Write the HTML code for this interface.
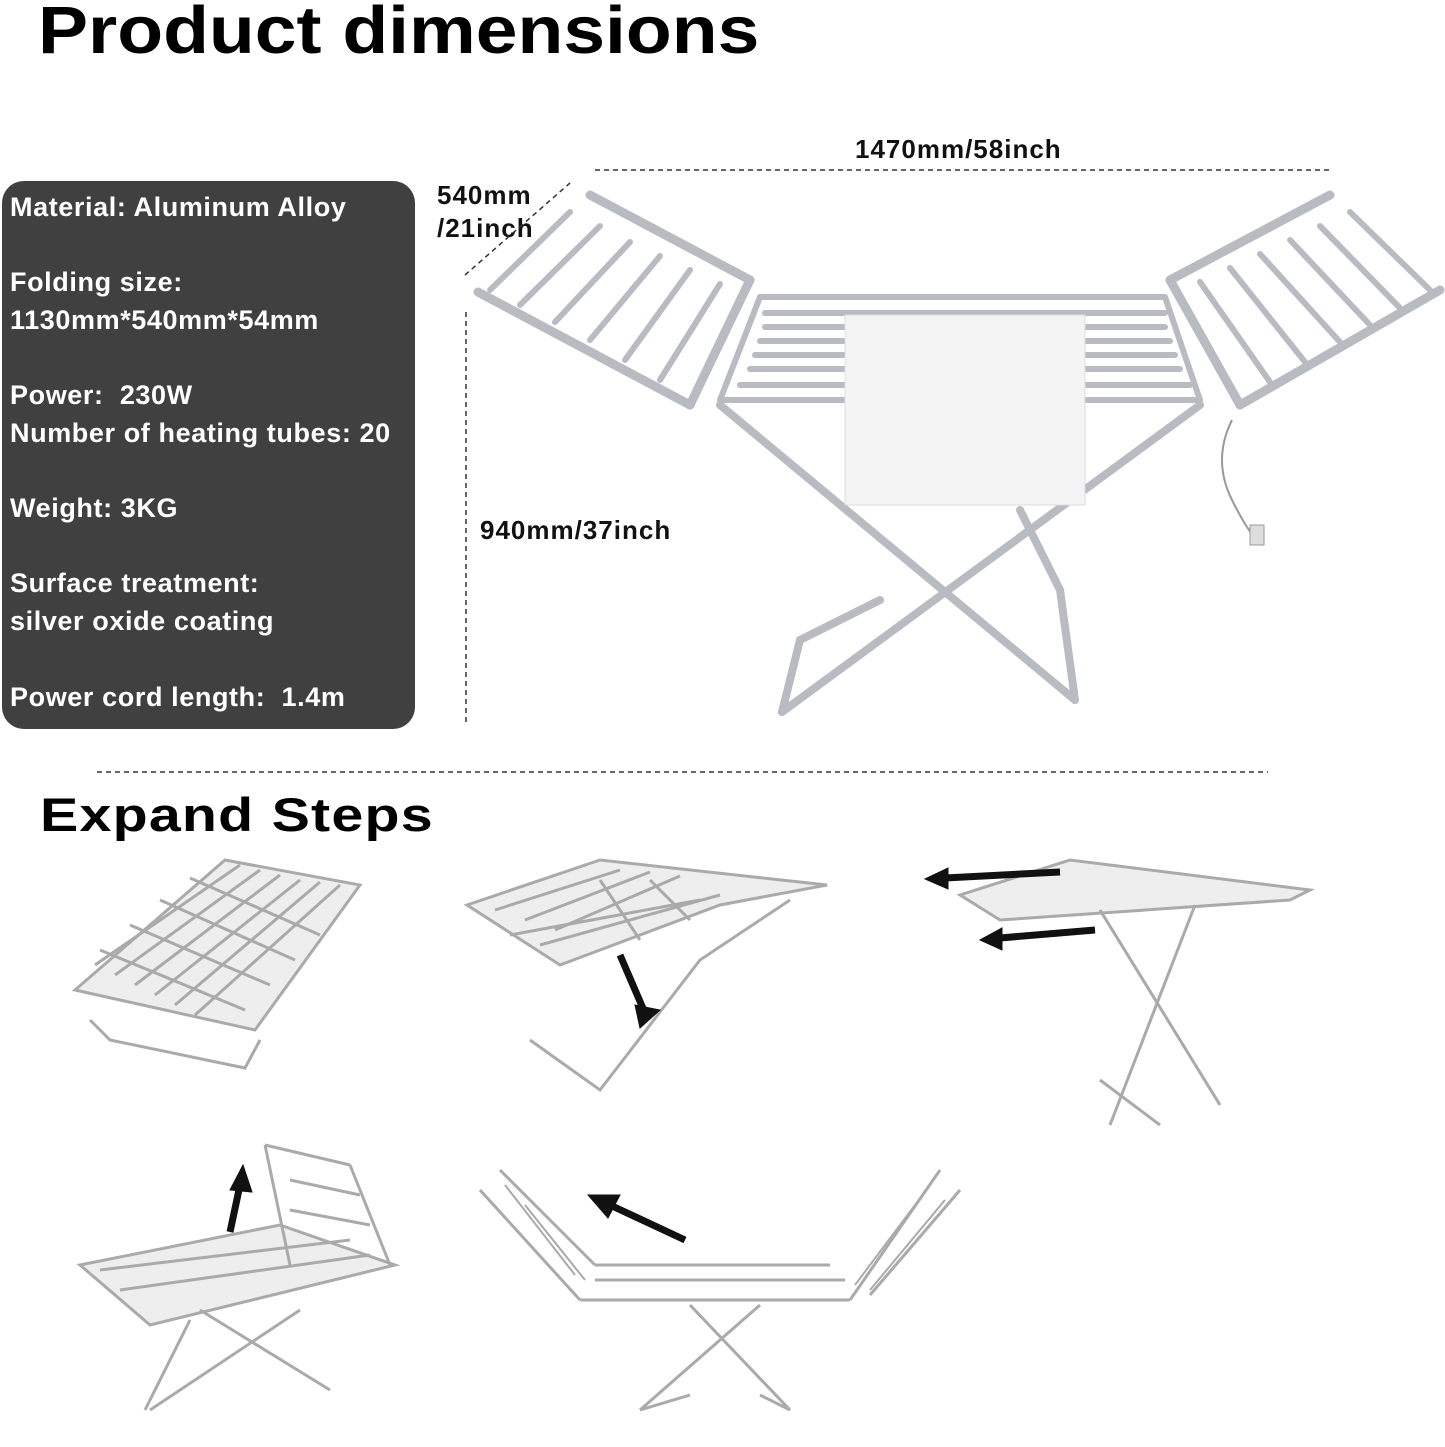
<!DOCTYPE html>
<html><head><meta charset="utf-8"><style>
body{margin:0;width:1445px;height:1447px;background:#fff;position:relative;overflow:hidden;font-family:"Liberation Sans",Arial,sans-serif}
.t{position:absolute;white-space:nowrap;transform-origin:left top}
.d{font-size:26px;font-weight:bold;letter-spacing:1px;color:#111}
#box{position:absolute;left:2px;top:181px;width:413px;height:548px;background:#404040;border-radius:22px}
#box div{position:absolute;left:8px;color:#fff;font-size:27px;font-weight:bold;letter-spacing:0.6px;white-space:nowrap}
</style></head><body>
<div class="t" style="left:38px;top:-8px;font-size:67px;font-weight:bold;color:#000;transform:scaleX(1.12)">Product dimensions</div>
<div id="box">
<div style="top:11px">Material: Aluminum Alloy</div>
<div style="top:86px">Folding size:</div>
<div style="top:124px">1130mm*540mm*54mm</div>
<div style="top:199px">Power:&nbsp; 230W</div>
<div style="top:237px">Number of heating tubes: 20</div>
<div style="top:312px">Weight: 3KG</div>
<div style="top:387px">Surface treatment:</div>
<div style="top:425px">silver oxide coating</div>
<div style="top:501px">Power cord length:&nbsp; 1.4m</div>
</div>
<div class="t d" style="left:855px;top:134px">1470mm/58inch</div>
<div class="t d" style="left:437px;top:180px">540mm</div>
<div class="t d" style="left:437px;top:213px">/21inch</div>
<div class="t d" style="left:480px;top:515px">940mm/37inch</div>
<div class="t" style="left:40px;top:787px;font-size:47px;font-weight:bold;color:#000;transform:scaleX(1.22);letter-spacing:1px">Expand Steps</div>
<svg width="1445" height="1447" style="position:absolute;left:0;top:0" fill="none">
<g stroke="#333" stroke-width="1.5" stroke-dasharray="5,4">
<line x1="595" y1="170" x2="1330" y2="170"/>
<line x1="465" y1="275" x2="570" y2="183"/>
<line x1="466" y1="312" x2="466" y2="722"/>
<line x1="97" y1="772" x2="1268" y2="772"/>
</g>
<g stroke="#b8bcc2" stroke-linecap="round">
<g stroke-width="8">
<line x1="720" y1="405" x2="1075" y2="700"/>
<line x1="1200" y1="405" x2="782" y2="712"/>
<polyline points="782,712 800,640 880,600"/>
<polyline points="1075,700 1060,590 1020,510"/>
</g>
<g stroke-width="6">
<line x1="760" y1="297" x2="1165" y2="297"/>
<line x1="720" y1="400" x2="1200" y2="400"/>
<line x1="765" y1="313" x2="1165" y2="313"/>
<line x1="765" y1="327" x2="1165" y2="327"/>
<line x1="760" y1="341" x2="1170" y2="341"/>
<line x1="755" y1="355" x2="1175" y2="355"/>
<line x1="750" y1="369" x2="1180" y2="369"/>
<line x1="740" y1="385" x2="1190" y2="385"/>
<line x1="760" y1="297" x2="720" y2="400"/>
<line x1="1165" y1="297" x2="1200" y2="400"/>
</g>
<g stroke-width="9">
<line x1="590" y1="195" x2="750" y2="280"/>
<line x1="478" y1="292" x2="690" y2="405"/>
<line x1="750" y1="280" x2="690" y2="405"/>
<line x1="1330" y1="195" x2="1170" y2="280"/>
<line x1="1440" y1="290" x2="1240" y2="405"/>
<line x1="1170" y1="280" x2="1240" y2="405"/>
</g>
<g stroke-width="6">
<line x1="570" y1="212" x2="490" y2="290"/><line x1="600" y1="226" x2="520" y2="305"/>
<line x1="630" y1="242" x2="555" y2="322"/><line x1="660" y1="256" x2="590" y2="340"/>
<line x1="690" y1="270" x2="625" y2="360"/><line x1="720" y1="284" x2="660" y2="380"/>
<line x1="1350" y1="212" x2="1430" y2="290"/><line x1="1320" y1="226" x2="1400" y2="308"/>
<line x1="1290" y1="240" x2="1370" y2="325"/><line x1="1260" y1="254" x2="1340" y2="342"/>
<line x1="1230" y1="268" x2="1305" y2="362"/><line x1="1200" y1="282" x2="1270" y2="382"/>
</g>
</g>
<rect x="845" y="315" width="240" height="190" fill="#f4f4f4" stroke="#ddd"/>
<path d="M1232 420 q-20 40 0 80 q15 30 25 40" stroke="#999" stroke-width="2"/>
<rect x="1250" y="525" width="14" height="20" fill="#ddd" stroke="#999"/>
<g stroke="#aaa" stroke-width="3" fill="none">
<polygon points="75,990 225,860 360,885 255,1030" fill="#eee"/>
<path d="M95,965 L240,865 M115,975 L260,870 M135,985 L280,875 M155,995 L300,880 M175,1005 L320,882 M195,1015 L340,885 M100,950 L245,1010 M130,925 L270,985 M160,900 L295,960 M190,878 L320,935"/>
<polyline points="90,1020 110,1040 245,1068 260,1040"/>
<polygon points="467,905 600,860 827,885 720,905 560,965" fill="#eee"/>
<path d="M495,910 L620,870 M525,920 L650,872 M555,930 L680,876 M510,935 L700,900 M540,945 L720,895 M600,880 L640,940 M650,880 L690,920"/>
<polyline points="530,1040 600,1090 700,960 790,900 M540,1055 L600,1095 M560,970 L530,1040"/>
<polygon points="960,895 1070,860 1310,890 1290,900 1000,920" fill="#eee"/>
<path d="M1100,910 L1220,1105 M1195,905 L1110,1125 M1100,1080 L1160,1125"/>
<polygon points="80,1265 280,1225 395,1265 150,1325" fill="#eee"/>
<path d="M100,1270 L350,1240 M120,1290 L370,1255 M265,1145 L290,1265 M265,1145 L350,1165 M350,1165 L390,1265 M290,1180 L360,1195 M290,1210 L370,1225 M145,1410 L190,1320 M330,1390 L200,1310 M150,1410 L300,1310"/>
<path d="M480,1190 L580,1300 M500,1170 L595,1265 M580,1300 L850,1300 M595,1265 L830,1265 M940,1170 L850,1300 M960,1190 L870,1295 M595,1280 L845,1280 M640,1410 L760,1305 M790,1410 L690,1305 M640,1410 L690,1395 M790,1410 L760,1395"/>
<path d="M505,1185 L575,1275 M525,1205 L585,1280 M855,1285 L930,1185 M870,1290 L945,1200" stroke-width="2"/>
</g>
<g fill="#111" stroke="#111" stroke-width="7">
<line x1="620" y1="955" x2="648" y2="1020"/><polygon points="640,1028 660,1010 635,1005" stroke-width="1"/>
<line x1="1060" y1="872" x2="945" y2="878"/><polygon points="925,879 948,868 948,889" stroke-width="1"/>
<line x1="1095" y1="930" x2="1000" y2="938"/><polygon points="980,940 1002,928 1002,950" stroke-width="1"/>
<line x1="230" y1="1232" x2="240" y2="1185"/><polygon points="243,1165 230,1190 252,1192" stroke-width="1"/>
<line x1="685" y1="1240" x2="610" y2="1205"/><polygon points="588,1195 620,1195 608,1218" stroke-width="1"/>
</g>
</svg>
</body></html>
